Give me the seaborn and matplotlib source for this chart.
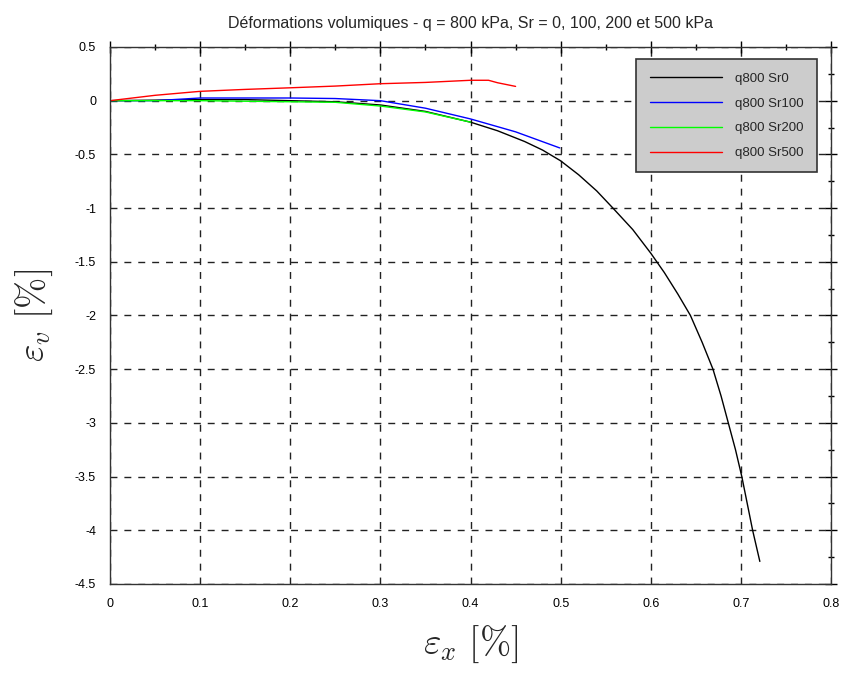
import numpy as np
import pandas as pd
import seaborn as sns
import matplotlib.pyplot as plt
from matplotlib.ticker import MultipleLocator

# Values (epsilon_x [%], epsilon_v [%])
sr0_x = [0.0, 0.05, 0.1, 0.15, 0.2, 0.25, 0.3, 0.35, 0.4, 0.43, 0.46, 0.48, 0.5,
         0.52, 0.54, 0.558, 0.58, 0.6, 0.615, 0.63, 0.644, 0.657, 0.669, 0.678,
         0.686, 0.694, 0.701, 0.707, 0.713, 0.721]
sr0_y = [0.0, 0.005, 0.01, 0.01, 0.0, -0.01, -0.04, -0.1, -0.2, -0.28, -0.38, -0.46,
         -0.56, -0.69, -0.84, -1.0, -1.2, -1.42, -1.6, -1.8, -2.0, -2.25, -2.5, -2.75,
         -3.0, -3.25, -3.5, -3.75, -4.0, -4.29]

sr100_x = [0.0, 0.05, 0.09, 0.1, 0.2, 0.25, 0.3, 0.35, 0.4, 0.45, 0.499]
sr100_y = [0.0, 0.0, 0.02, 0.025, 0.025, 0.02, 0.0, -0.07, -0.17, -0.29, -0.44]

sr200_x = [0.0, 0.05, 0.1, 0.15, 0.2, 0.25, 0.3, 0.35, 0.4]
sr200_y = [0.0, 0.0, 0.0, -0.005, -0.01, -0.015, -0.05, -0.105, -0.2]

sr500_x = [0.0, 0.05, 0.1, 0.15, 0.2, 0.25, 0.3, 0.35, 0.4, 0.42, 0.43, 0.45]
sr500_y = [0.0, 0.05, 0.087, 0.105, 0.12, 0.136, 0.158, 0.17, 0.19, 0.19, 0.167, 0.133]

labels = ['q800 Sr0', 'q800 Sr100', 'q800 Sr200', 'q800 Sr500']
colors = ['black', 'blue', '#00ff00', 'red']

frames = []
for lab, xs, ys in zip(labels, [sr0_x, sr100_x, sr200_x, sr500_x],
                       [sr0_y, sr100_y, sr200_y, sr500_y]):
    frames.append(pd.DataFrame({'ex': xs, 'ev': ys, 'serie': lab}))
data = pd.concat(frames, ignore_index=True)

sns.set_style('white')
plt.rcParams['font.family'] = ['Liberation Sans', 'DejaVu Sans']
plt.rcParams['mathtext.fontset'] = 'cm'

fig = plt.figure(figsize=(8.48, 6.77), dpi=100)
ax = fig.add_axes([0.1297, 0.1374, 0.9800 - 0.1297, 0.9306 - 0.1374])

sns.lineplot(data=data, x='ex', y='ev', hue='serie', palette=colors,
             sort=False, estimator=None, linewidth=1.0, ax=ax)

xt = np.arange(0, 0.81, 0.1).round(1)
yt = np.arange(-4.5, 0.51, 0.5).round(1)
ax.set_xlim(0, 0.8)
ax.set_ylim(-4.5, 0.5)
ax.set_xticks(xt)
ax.set_yticks(yt)
ax.set_xticklabels([f'{v:g}' for v in xt])
ax.set_yticklabels([f'{v:g}' for v in yt])
ax.xaxis.set_minor_locator(MultipleLocator(0.05))
ax.yaxis.set_minor_locator(MultipleLocator(0.25))

ax.tick_params(which='both', direction='inout', top=True, right=True,
               labelsize=9, colors='black', pad=6)
ax.tick_params(which='major', length=8, width=1)
ax.tick_params(which='minor', length=4, width=1)
ax.grid(True, which='major', linestyle=(0, (5, 5)), color='#222222', linewidth=1)
for s in ax.spines.values():
    s.set_color('#333333')
    s.set_linewidth(1)

ax.set_xlabel(r'$\varepsilon_x\ [\%]$', fontsize=27, labelpad=10)
ax.set_ylabel(r'$\varepsilon_v\ [\%]$', fontsize=27, labelpad=14)
ax.set_title('Déformations volumiques - q = 800 kPa, Sr = 0, 100, 200 et 500 kPa',
             fontsize=11.5, pad=14)

leg = ax.legend(loc='upper right', fontsize=9.5, frameon=True, fancybox=False,
                facecolor='#cccccc', edgecolor='#333333', framealpha=1,
                handlelength=5.5, handletextpad=1.0, borderpad=1.0,
                labelspacing=0.95, bbox_to_anchor=(0.990, 0.989))
leg.get_frame().set_linewidth(1.2)

fig.savefig('out.png', dpi=100)
